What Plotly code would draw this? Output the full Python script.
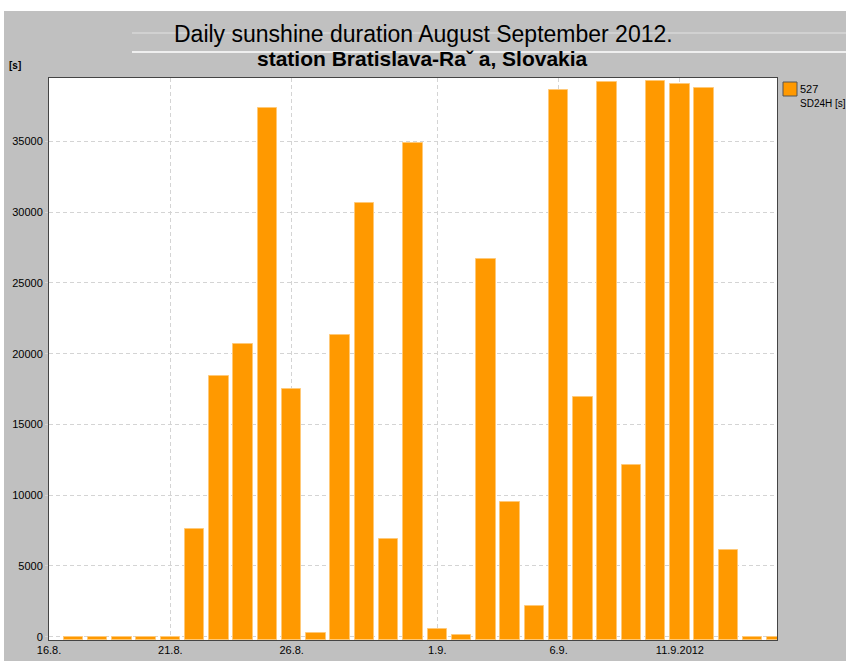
import plotly.graph_objects as go

# ---- data ----
dates = ["2012-08-17", "2012-08-18", "2012-08-19", "2012-08-20", "2012-08-21",
         "2012-08-22", "2012-08-23", "2012-08-24", "2012-08-25", "2012-08-26",
         "2012-08-27", "2012-08-28", "2012-08-29", "2012-08-30", "2012-08-31",
         "2012-09-01", "2012-09-02", "2012-09-03", "2012-09-04", "2012-09-05",
         "2012-09-06", "2012-09-07", "2012-09-08", "2012-09-09", "2012-09-10",
         "2012-09-11", "2012-09-12", "2012-09-13", "2012-09-14", "2012-09-15"]
sunshine = [0, 0, 0, 0, 0,
            7630, 18400, 20700, 37380, 17480,
            290, 21340, 30670, 6900, 34880,
            560, 90, 26690, 9520, 2190,
            38660, 16960, 39180, 12110, 39270,
            39080, 38780, 6150, 0, 0]
tick_dates = ["2012-08-16", "2012-08-21", "2012-08-26", "2012-09-01", "2012-09-06", "2012-09-11"]
tick_labels = ["16.8.", "21.8.", "26.8.", "1.9.", "6.9.", "11.9.2012"]
y_ticks = [0, 5000, 10000, 15000, 20000, 25000, 30000, 35000]

Y_MIN, Y_MAX = -230, 39480
W, H = 846, 661
L, R, T, B = 49, 777, 78, 640  # plot area in pixels

def px(x):
    return (x - L) / (R - L)

def py(y):
    return (B - y) / (B - T)

FONT = "Liberation Sans, Arial, sans-serif"
ORANGE = "#FF9900"

fig = go.Figure()
fig.add_trace(go.Bar(
    x=dates,
    y=[v - Y_MIN for v in sunshine],
    base=Y_MIN,
    width=0.8 * 86400000,
    marker=dict(color=ORANGE, line=dict(color="#FFC978", width=1)),
    showlegend=False,
    name="527 SD24H [s]",
))

grid = dict(gridcolor="#D4D4D4", griddash="4px,3px", gridwidth=1)

fig.update_xaxes(
    type="date",
    range=["2012-08-16", "2012-09-15"],
    tickvals=tick_dates,
    ticktext=tick_labels,
    showgrid=True, **grid,
    showline=True, mirror=True, linecolor="#444444", linewidth=1,
    ticks="", automargin=False,
    tickfont=dict(family=FONT, size=11, color="#000000"),
    zeroline=False,
)
fig.update_yaxes(
    range=[Y_MIN, Y_MAX],
    tickvals=y_ticks,
    tickformat="d",
    showgrid=True, **grid,
    showline=True, mirror=True, linecolor="#444444", linewidth=1,
    ticks="outside", ticklen=3, tickcolor="#D4D4D4", automargin=False,
    tickfont=dict(family=FONT, size=11, color="#000000"),
    zeroline=False,
)

shapes = [
    # white strips around the grey panel
    dict(type="rect", xref="paper", yref="paper", x0=px(-5), x1=px(W + 5), y0=py(11), y1=py(-5),
         fillcolor="white", line=dict(width=0), layer="below"),
    dict(type="rect", xref="paper", yref="paper", x0=px(-5), x1=px(4), y0=py(H + 5), y1=py(-5),
         fillcolor="white", line=dict(width=0), layer="below"),
    # stray lines through the title
    dict(type="line", xref="paper", yref="paper", x0=px(132), x1=px(W + 5), y0=py(33), y1=py(33),
         line=dict(color="#E2E2E2", width=1), layer="below"),
    dict(type="line", xref="paper", yref="paper", x0=px(132), x1=px(W + 5), y0=py(52), y1=py(52),
         line=dict(color="#FFFFFF", width=1.5), layer="below"),
    # legend swatch
    dict(type="rect", xref="paper", yref="paper", x0=px(783), x1=px(797), y0=py(96), y1=py(82),
         fillcolor=ORANGE, line=dict(color="#555555", width=1)),
]

annotations = [
    dict(text="Daily sunshine duration August September 2012.", xref="paper", yref="paper",
         x=px(424), y=py(34), xanchor="center", yanchor="middle", showarrow=False,
         font=dict(family=FONT, size=23, color="#000000")),
    dict(text="<b>station Bratislava-Raˇ a, Slovakia</b>", xref="paper", yref="paper",
         x=px(423), y=py(59), xanchor="center", yanchor="middle", showarrow=False,
         font=dict(family=FONT, size=21, color="#000000")),
    dict(text="<b>[s]</b>", xref="paper", yref="paper",
         x=px(15), y=py(65), xanchor="center", yanchor="middle", showarrow=False,
         font=dict(family=FONT, size=10, color="#000000")),
    dict(text="527", xref="paper", yref="paper",
         x=px(798), y=py(89), xanchor="left", yanchor="middle", showarrow=False,
         font=dict(family=FONT, size=11, color="#000000")),
    dict(text="SD24H [s]", xref="paper", yref="paper",
         x=px(798), y=py(104), xanchor="left", yanchor="middle", showarrow=False,
         font=dict(family=FONT, size=10, color="#000000")),
]

fig.update_layout(
    width=W, height=H,
    margin=dict(l=L, r=W - R, t=T, b=H - B, pad=0, autoexpand=False),
    paper_bgcolor="#C0C0C0",
    plot_bgcolor="#FFFFFF",
    bargap=0,
    shapes=shapes,
    annotations=annotations,
    font=dict(family=FONT),
)

fig.write_html(
    "out.html",
    config={"displayModeBar": False},
    post_script="document.body.style.margin='0';document.body.style.overflow='hidden';",
)
